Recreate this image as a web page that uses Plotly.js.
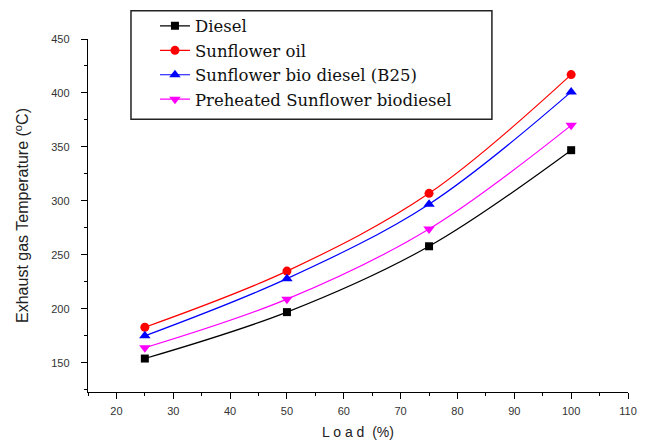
<!DOCTYPE html>
<html><head><meta charset="utf-8">
<script src="https://cdn.plot.ly/plotly-3.0.1.min.js"></script>
<style>html,body{margin:0;padding:0;background:#fff}#chart{width:652px;height:446px}</style>
</head><body><div id="chart"></div>
<script>
const load = [25, 50, 75, 100];
const diesel = [154, 197, 258, 347];
const sunflowerOil = [183, 235, 307, 417];
const b25 = [175, 228, 297, 401];
const preheated = [164, 209, 274, 370];
const names = ["Diesel", "Sunflower oil", "Sunflower bio diesel (B25)", "Preheated Sunflower biodiesel"];
const xTicks = [20, 30, 40, 50, 60, 70, 80, 90, 100, 110];
const yTicks = [150, 200, 250, 300, 350, 400, 450];

function tr(y, name, color, symbol, size) {
  return {x: load, y: y, name: name, type: 'scatter', mode: 'lines+markers',
    line: {color: color, width: 1.2, shape: 'spline', smoothing: 1},
    marker: {color: color, symbol: symbol, size: size}};
}
const data = [
  tr(diesel, names[0], '#000000', 'square', 8),
  tr(sunflowerOil, names[1], '#ff0000', 'circle', 9),
  tr(b25, names[2], '#0000ff', 'triangle-up', 10),
  tr(preheated, names[3], '#ff00ff', 'triangle-down', 10)
];
const axFont = {family: 'Liberation Sans, Arial, sans-serif', size: 11, color: '#333'};
const layout = {
  width: 652, height: 446,
  margin: {l: 88, r: 24, t: 39, b: 54, autoexpand: false},
  paper_bgcolor: '#fff', plot_bgcolor: '#fff',
  showlegend: true,
  legend: {x: 0.124, y: 1.086, xanchor: 'left', yanchor: 'top',
    borderwidth: 0, bgcolor: 'rgba(0,0,0,0)',
    font: {family: 'DejaVu Serif, serif', size: 16.5, color: '#111'},
    tracegroupgap: 0},
  shapes: [{type: 'rect', xref: 'paper', yref: 'paper', x0: 0.0796, x1: 0.748, y0: 0.773, y1: 1.0802,
    line: {color: '#222', width: 1.5}, fillcolor: '#fff', layer: 'above'}],
  xaxis: {range: [15, 110], tickvals: xTicks, ticks: 'outside', ticklen: 6, tickwidth: 1,
    tickcolor: '#000', showline: true, linecolor: '#000', linewidth: 1.2, showgrid: false,
    zeroline: false, tickfont: axFont, ticklabelstandoff: 3, automargin: false,
    minor: {dtick: 5, tick0: 15, ticks: 'outside', ticklen: 3, tickcolor: '#000'},
    title: {text: 'L o a d  (%)', font: {family: 'Liberation Sans, Arial, sans-serif', size: 14, color: '#222'}, standoff: 10}},
  yaxis: {range: [123, 450], tickvals: yTicks, ticks: 'outside', ticklen: 6, tickwidth: 1,
    tickcolor: '#000', showline: true, linecolor: '#000', linewidth: 1.2, showgrid: false,
    zeroline: false, tickfont: axFont, ticklabelstandoff: 9, automargin: false,
    minor: {dtick: 25, tick0: 150, ticks: 'outside', ticklen: 3, tickcolor: '#000'},
    title: {text: 'Exhaust gas Temperature (<sup>o</sup>C)', font: {family: 'Liberation Sans, Arial, sans-serif', size: 16, color: '#222'}, standoff: 18}}
};
Plotly.newPlot('chart', data, layout, {displayModeBar: false, staticPlot: true});
</script></body></html>
